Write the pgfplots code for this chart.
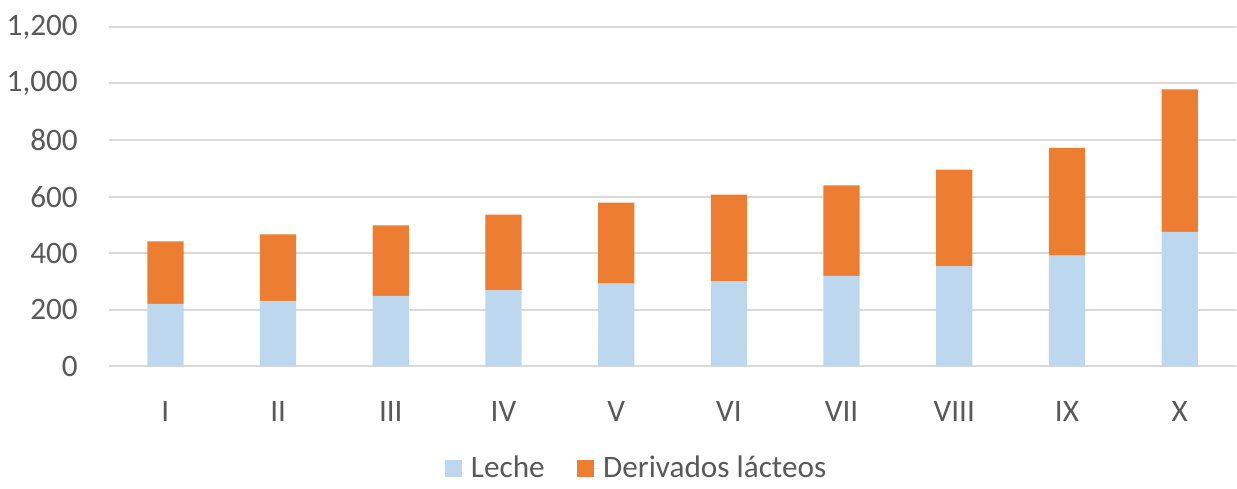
\documentclass[border=0pt]{standalone}
\usepackage{fontspec}
\setmainfont{Carlito}
\usepackage{pgfplots}
\pgfplotsset{compat=1.18}
\definecolor{leche}{HTML}{BDD7EE}
\definecolor{deriv}{HTML}{ED7D31}
\definecolor{txt}{HTML}{595959}
\definecolor{gridc}{HTML}{D9D9D9}

\begin{document}
\begin{tikzpicture}[font=\fontsize{15.5}{18}\selectfont]
\begin{axis}[
    scale only axis,
    width=559.5pt, height=168.5pt,
    ybar stacked,
    bar width=18pt,
    ymin=0, ymax=1200,
    ytick={0,200,...,1200},
    xmin=-0.5, xmax=9.5,
    xtick=data,
    xticklabels={I,II,III,IV,V,VI,VII,VIII,IX,X},
    axis line style={draw=none},
    major tick length=0pt,
    xmajorgrids=false,
    ymajorgrids=true,
    major grid style={draw=gridc, line width=1pt},
    yticklabel style={text=txt, xshift=-12pt},
    xticklabel style={text=txt, yshift=-14pt},
    /pgf/number format/assume math mode=true,
    /pgf/number format/1000 sep={,},
    legend style={draw=none, at={(rel axis cs:0.469,-0.30)}, anchor=center,
        legend columns=2, text=txt, /tikz/every even column/.style={column sep=14pt}},
    legend image code/.code={\fill[#1] (0pt,-4.5pt) rectangle (8.5pt,4pt);
        \path (0pt,0pt) -- (11pt,0pt);},
    ]
\addplot+[fill=leche, draw=none] coordinates {
    (0,221) (1,231) (2,249) (3,268) (4,292) (5,301) (6,320) (7,353) (8,391) (9,475)};
\addplot+[fill=deriv, draw=none] coordinates {
    (0,221) (1,235) (2,249) (3,268) (4,287) (5,306) (6,320) (7,342) (8,381) (9,504)};
\legend{Leche, Derivados lácteos}
\end{axis}
\path (current bounding box.north) ++(0,4pt);
\end{tikzpicture}
\end{document}
